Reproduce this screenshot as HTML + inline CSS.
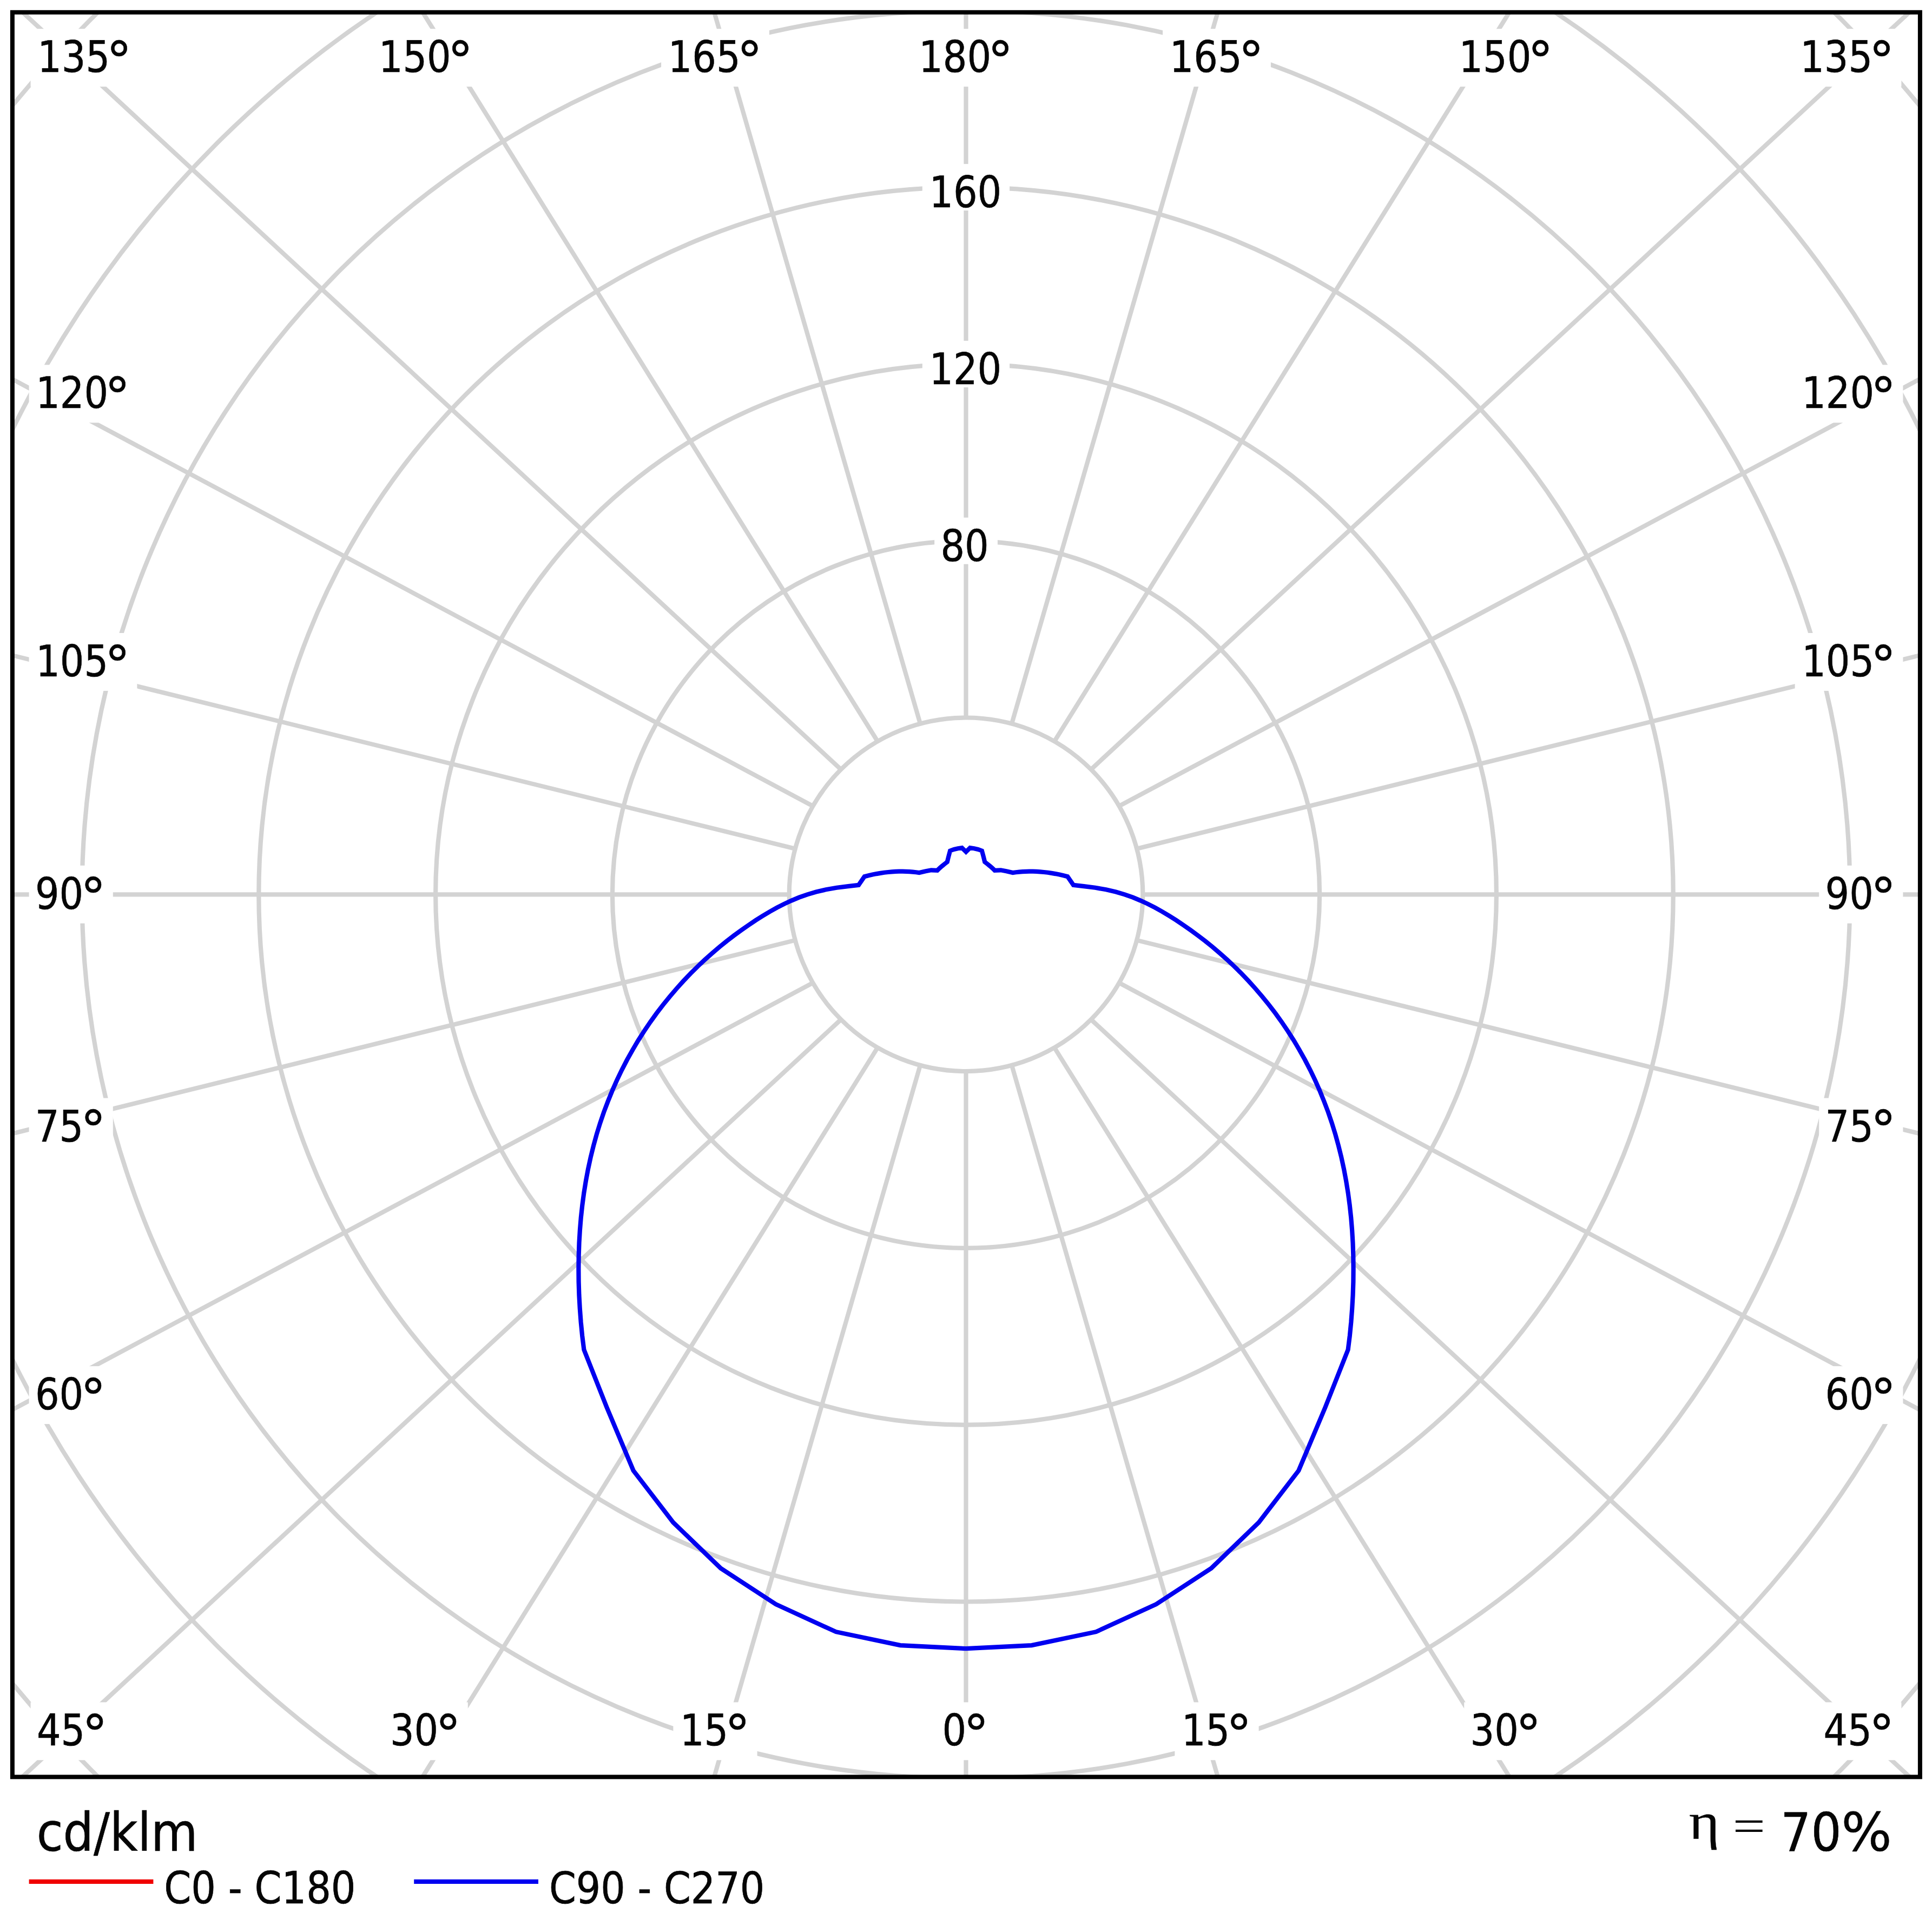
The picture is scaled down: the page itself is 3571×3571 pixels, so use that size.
<!DOCTYPE html>
<html lang="en"><head><meta charset="utf-8"><title>Polar diagram</title>
<style>html,body{margin:0;padding:0;background:#fff}body{width:3571px;height:3571px;overflow:hidden}svg{display:block}</style></head>
<body>
<svg width="3571" height="3571" viewBox="0 0 3571 3571">
<defs><clipPath id="fc"><rect x="22.9" y="22.75" width="3526.00" height="3261.65"/></clipPath></defs>
<rect x="0" y="0" width="3571" height="3571" fill="#ffffff"/>
<g clip-path="url(#fc)">
<g fill="none" stroke="#d3d3d3" stroke-width="8.2">
<circle cx="1785.5" cy="1653.3" r="326.80"/>
<circle cx="1785.5" cy="1653.3" r="653.60"/>
<circle cx="1785.5" cy="1653.3" r="980.40"/>
<circle cx="1785.5" cy="1653.3" r="1307.20"/>
<circle cx="1785.5" cy="1653.3" r="1634.00"/>
<circle cx="1785.5" cy="1653.3" r="1960.80"/>
<circle cx="1785.5" cy="1653.3" r="2287.60"/>
<line x1="1785.50" y1="1980.10" x2="1785.50" y2="3331.79"/>
<line x1="1870.08" y1="1968.96" x2="2264.77" y2="3332.23"/>
<line x1="1948.90" y1="1936.32" x2="2820.73" y2="3333.54"/>
<line x1="2016.58" y1="1884.38" x2="3585.13" y2="3335.62"/>
<line x1="2068.52" y1="1816.70" x2="3583.05" y2="2624.29"/>
<line x1="2101.16" y1="1737.88" x2="3581.75" y2="2103.59"/>
<line x1="2112.30" y1="1653.30" x2="3576.83" y2="1653.30"/>
<line x1="2101.16" y1="1568.72" x2="3581.75" y2="1203.01"/>
<line x1="2068.52" y1="1489.90" x2="3583.05" y2="682.31"/>
<line x1="2016.58" y1="1422.22" x2="3585.13" y2="-29.02"/>
<line x1="1948.90" y1="1370.28" x2="2820.73" y2="-26.94"/>
<line x1="1870.08" y1="1337.64" x2="2264.77" y2="-25.63"/>
<line x1="1785.50" y1="1326.50" x2="1785.50" y2="-25.19"/>
<line x1="1700.92" y1="1337.64" x2="1306.23" y2="-25.63"/>
<line x1="1622.10" y1="1370.28" x2="750.27" y2="-26.94"/>
<line x1="1554.42" y1="1422.22" x2="-14.13" y2="-29.02"/>
<line x1="1502.48" y1="1489.90" x2="-12.05" y2="682.31"/>
<line x1="1469.84" y1="1568.72" x2="-10.75" y2="1203.01"/>
<line x1="1458.70" y1="1653.30" x2="-5.83" y2="1653.30"/>
<line x1="1469.84" y1="1737.88" x2="-10.75" y2="2103.59"/>
<line x1="1502.48" y1="1816.70" x2="-12.05" y2="2624.29"/>
<line x1="1554.42" y1="1884.38" x2="-14.13" y2="3335.62"/>
<line x1="1622.10" y1="1936.32" x2="750.27" y2="3333.54"/>
<line x1="1700.92" y1="1968.96" x2="1306.23" y2="3332.23"/>
</g>
<rect x="56.6" y="53.3" width="199.8" height="106.9" fill="#ffffff"/>
<rect x="3314.6" y="53.3" width="199.8" height="106.9" fill="#ffffff"/>
<rect x="687.3" y="53.3" width="199.8" height="106.9" fill="#ffffff"/>
<rect x="2683.9" y="53.3" width="199.8" height="106.9" fill="#ffffff"/>
<rect x="1222.1" y="53.3" width="199.8" height="106.9" fill="#ffffff"/>
<rect x="2149.1" y="53.3" width="199.8" height="106.9" fill="#ffffff"/>
<rect x="1685.6" y="53.3" width="199.8" height="106.9" fill="#ffffff"/>
<rect x="56.6" y="3146.4" width="155.2" height="106.9" fill="#ffffff"/>
<rect x="3359.2" y="3146.4" width="155.2" height="106.9" fill="#ffffff"/>
<rect x="709.6" y="3146.4" width="155.2" height="106.9" fill="#ffffff"/>
<rect x="2706.2" y="3146.4" width="155.2" height="106.9" fill="#ffffff"/>
<rect x="1244.4" y="3146.4" width="155.2" height="106.9" fill="#ffffff"/>
<rect x="2171.4" y="3146.4" width="155.2" height="106.9" fill="#ffffff"/>
<rect x="1730.2" y="3146.4" width="110.6" height="106.9" fill="#ffffff"/>
<rect x="53.6" y="674.4" width="199.8" height="106.9" fill="#ffffff"/>
<rect x="3317.6" y="674.4" width="199.8" height="106.9" fill="#ffffff"/>
<rect x="53.6" y="1170.0" width="199.8" height="106.9" fill="#ffffff"/>
<rect x="3317.6" y="1170.0" width="199.8" height="106.9" fill="#ffffff"/>
<rect x="53.6" y="1599.8" width="155.2" height="106.9" fill="#ffffff"/>
<rect x="3362.2" y="1599.8" width="155.2" height="106.9" fill="#ffffff"/>
<rect x="53.6" y="2029.6" width="155.2" height="106.9" fill="#ffffff"/>
<rect x="3362.2" y="2029.6" width="155.2" height="106.9" fill="#ffffff"/>
<rect x="53.6" y="2525.2" width="155.2" height="106.9" fill="#ffffff"/>
<rect x="3362.2" y="2525.2" width="155.2" height="106.9" fill="#ffffff"/>
<rect x="1727.2" y="956.7" width="116.7" height="86.0" fill="#ffffff"/>
<rect x="1704.8" y="629.9" width="161.3" height="86.0" fill="#ffffff"/>
<rect x="1704.8" y="303.1" width="161.3" height="86.0" fill="#ffffff"/>
<path d="M1785.5,3047.2 L1906.9,3041.1 L2025.8,3016.2 L2137.0,2965.2 L2238.8,2898.8 L2326.7,2813.9 L2400.3,2718.2 L2449.4,2601.5 L2491.6,2494.8 L2494.8,2469.2 L2497.3,2443.8 L2499.2,2418.7 L2500.6,2393.8 L2501.4,2369.2 L2501.6,2344.9 L2501.3,2320.8 L2500.5,2297.1 L2499.1,2273.6 L2497.2,2250.5 L2494.7,2227.6 L2491.7,2205.0 L2488.1,2182.8 L2484.0,2160.8 L2479.3,2139.1 L2474.0,2117.7 L2468.2,2096.6 L2461.8,2075.9 L2454.8,2055.4 L2447.2,2035.4 L2439.2,2015.6 L2430.6,1996.3 L2421.5,1977.3 L2411.9,1958.8 L2401.8,1940.7 L2391.3,1923.0 L2380.3,1905.8 L2369.0,1889.0 L2357.3,1872.8 L2345.2,1857.0 L2332.9,1841.8 L2320.3,1827.1 L2307.5,1812.9 L2294.4,1799.2 L2281.2,1786.1 L2267.9,1773.6 L2254.4,1761.6 L2241.0,1750.1 L2227.5,1739.2 L2214.0,1728.9 L2200.6,1719.1 L2187.3,1709.8 L2174.2,1701.0 L2161.1,1692.8 L2148.1,1685.0 L2135.0,1677.7 L2121.7,1670.9 L2108.1,1664.6 L2093.9,1658.7 L2078.8,1653.3 L2062.5,1648.5 L2044.4,1644.3 L2024.4,1640.8 L2003.5,1638.1 L1984.0,1635.9 L1973.2,1620.2 L1965.7,1618.3 L1958.3,1616.6 L1950.9,1615.1 L1943.7,1613.9 L1936.6,1612.8 L1929.5,1612.0 L1922.6,1611.4 L1915.8,1610.9 L1909.2,1610.7 L1902.6,1610.7 L1896.2,1610.8 L1890.0,1611.1 L1883.8,1611.6 L1877.8,1612.2 L1872.0,1613.0 L1860.0,1610.3 L1849.8,1608.3 L1838.5,1608.8 L1834.2,1604.6 L1829.7,1600.7 L1825.0,1596.9 L1820.2,1593.1 L1817.9,1583.8 L1814.9,1572.5 L1807.8,1569.9 L1800.5,1568.2 L1793.0,1567.1 L1785.5,1574.5 L1778.0,1567.1 L1770.5,1568.2 L1763.2,1569.9 L1756.1,1572.5 L1753.1,1583.8 L1750.8,1593.1 L1746.0,1596.9 L1741.3,1600.7 L1736.8,1604.6 L1732.5,1608.8 L1721.2,1608.3 L1711.0,1610.3 L1699.0,1613.0 L1693.2,1612.2 L1687.2,1611.6 L1681.0,1611.1 L1674.8,1610.8 L1668.4,1610.7 L1661.8,1610.7 L1655.2,1610.9 L1648.4,1611.4 L1641.5,1612.0 L1634.4,1612.8 L1627.3,1613.9 L1620.1,1615.1 L1612.7,1616.6 L1605.3,1618.3 L1597.8,1620.2 L1587.0,1635.9 L1567.5,1638.1 L1546.6,1640.8 L1526.6,1644.3 L1508.5,1648.5 L1492.2,1653.3 L1477.1,1658.7 L1462.9,1664.6 L1449.3,1670.9 L1436.0,1677.7 L1422.9,1685.0 L1409.9,1692.8 L1396.8,1701.0 L1383.7,1709.8 L1370.4,1719.1 L1357.0,1728.9 L1343.5,1739.2 L1330.0,1750.1 L1316.6,1761.6 L1303.1,1773.6 L1289.8,1786.1 L1276.6,1799.2 L1263.5,1812.9 L1250.7,1827.1 L1238.1,1841.8 L1225.8,1857.0 L1213.7,1872.8 L1202.0,1889.0 L1190.7,1905.8 L1179.7,1923.0 L1169.2,1940.7 L1159.1,1958.8 L1149.5,1977.3 L1140.4,1996.3 L1131.8,2015.6 L1123.8,2035.4 L1116.2,2055.4 L1109.2,2075.9 L1102.8,2096.6 L1097.0,2117.7 L1091.7,2139.1 L1087.0,2160.8 L1082.9,2182.8 L1079.3,2205.0 L1076.3,2227.6 L1073.8,2250.5 L1071.9,2273.6 L1070.5,2297.1 L1069.7,2320.8 L1069.4,2344.9 L1069.6,2369.2 L1070.4,2393.8 L1071.8,2418.7 L1073.7,2443.8 L1076.2,2469.2 L1079.4,2494.8 L1121.6,2601.5 L1170.7,2718.2 L1244.3,2813.9 L1332.2,2898.8 L1434.0,2965.2 L1545.2,3016.2 L1664.1,3041.1 Z" fill="none" stroke="#f00000" stroke-width="5" stroke-linejoin="miter"/>
<path d="M1785.5,3047.2 L1906.9,3041.1 L2025.8,3016.2 L2137.0,2965.2 L2238.8,2898.8 L2326.7,2813.9 L2400.3,2718.2 L2449.4,2601.5 L2491.6,2494.8 L2494.8,2469.2 L2497.3,2443.8 L2499.2,2418.7 L2500.6,2393.8 L2501.4,2369.2 L2501.6,2344.9 L2501.3,2320.8 L2500.5,2297.1 L2499.1,2273.6 L2497.2,2250.5 L2494.7,2227.6 L2491.7,2205.0 L2488.1,2182.8 L2484.0,2160.8 L2479.3,2139.1 L2474.0,2117.7 L2468.2,2096.6 L2461.8,2075.9 L2454.8,2055.4 L2447.2,2035.4 L2439.2,2015.6 L2430.6,1996.3 L2421.5,1977.3 L2411.9,1958.8 L2401.8,1940.7 L2391.3,1923.0 L2380.3,1905.8 L2369.0,1889.0 L2357.3,1872.8 L2345.2,1857.0 L2332.9,1841.8 L2320.3,1827.1 L2307.5,1812.9 L2294.4,1799.2 L2281.2,1786.1 L2267.9,1773.6 L2254.4,1761.6 L2241.0,1750.1 L2227.5,1739.2 L2214.0,1728.9 L2200.6,1719.1 L2187.3,1709.8 L2174.2,1701.0 L2161.1,1692.8 L2148.1,1685.0 L2135.0,1677.7 L2121.7,1670.9 L2108.1,1664.6 L2093.9,1658.7 L2078.8,1653.3 L2062.5,1648.5 L2044.4,1644.3 L2024.4,1640.8 L2003.5,1638.1 L1984.0,1635.9 L1973.2,1620.2 L1965.7,1618.3 L1958.3,1616.6 L1950.9,1615.1 L1943.7,1613.9 L1936.6,1612.8 L1929.5,1612.0 L1922.6,1611.4 L1915.8,1610.9 L1909.2,1610.7 L1902.6,1610.7 L1896.2,1610.8 L1890.0,1611.1 L1883.8,1611.6 L1877.8,1612.2 L1872.0,1613.0 L1860.0,1610.3 L1849.8,1608.3 L1838.5,1608.8 L1834.2,1604.6 L1829.7,1600.7 L1825.0,1596.9 L1820.2,1593.1 L1817.9,1583.8 L1814.9,1572.5 L1807.8,1569.9 L1800.5,1568.2 L1793.0,1567.1 L1785.5,1574.5 L1778.0,1567.1 L1770.5,1568.2 L1763.2,1569.9 L1756.1,1572.5 L1753.1,1583.8 L1750.8,1593.1 L1746.0,1596.9 L1741.3,1600.7 L1736.8,1604.6 L1732.5,1608.8 L1721.2,1608.3 L1711.0,1610.3 L1699.0,1613.0 L1693.2,1612.2 L1687.2,1611.6 L1681.0,1611.1 L1674.8,1610.8 L1668.4,1610.7 L1661.8,1610.7 L1655.2,1610.9 L1648.4,1611.4 L1641.5,1612.0 L1634.4,1612.8 L1627.3,1613.9 L1620.1,1615.1 L1612.7,1616.6 L1605.3,1618.3 L1597.8,1620.2 L1587.0,1635.9 L1567.5,1638.1 L1546.6,1640.8 L1526.6,1644.3 L1508.5,1648.5 L1492.2,1653.3 L1477.1,1658.7 L1462.9,1664.6 L1449.3,1670.9 L1436.0,1677.7 L1422.9,1685.0 L1409.9,1692.8 L1396.8,1701.0 L1383.7,1709.8 L1370.4,1719.1 L1357.0,1728.9 L1343.5,1739.2 L1330.0,1750.1 L1316.6,1761.6 L1303.1,1773.6 L1289.8,1786.1 L1276.6,1799.2 L1263.5,1812.9 L1250.7,1827.1 L1238.1,1841.8 L1225.8,1857.0 L1213.7,1872.8 L1202.0,1889.0 L1190.7,1905.8 L1179.7,1923.0 L1169.2,1940.7 L1159.1,1958.8 L1149.5,1977.3 L1140.4,1996.3 L1131.8,2015.6 L1123.8,2035.4 L1116.2,2055.4 L1109.2,2075.9 L1102.8,2096.6 L1097.0,2117.7 L1091.7,2139.1 L1087.0,2160.8 L1082.9,2182.8 L1079.3,2205.0 L1076.3,2227.6 L1073.8,2250.5 L1071.9,2273.6 L1070.5,2297.1 L1069.7,2320.8 L1069.4,2344.9 L1069.6,2369.2 L1070.4,2393.8 L1071.8,2418.7 L1073.7,2443.8 L1076.2,2469.2 L1079.4,2494.8 L1121.6,2601.5 L1170.7,2718.2 L1244.3,2813.9 L1332.2,2898.8 L1434.0,2965.2 L1545.2,3016.2 L1664.1,3041.1 Z" fill="none" stroke="#0000f0" stroke-width="8.2" stroke-linejoin="miter"/>
</g>
<rect x="22.9" y="22.75" width="3526.00" height="3261.65" fill="none" stroke="#000000" stroke-width="8.0"/>
<g font-family="'DejaVu Sans Condensed','Liberation Sans',sans-serif" font-size="80" fill="#050505" stroke="#050505" stroke-width="0.6">
<text transform="translate(69.2,133.3) scale(0.9742,1)" x="0" y="0">135<tspan x="130.6" dy="12.6" font-family="'DejaVu Sans','Liberation Sans',sans-serif" font-size="97">°</tspan></text>
<text transform="translate(3327.2,133.3) scale(0.9742,1)" x="0" y="0">135<tspan x="130.6" dy="12.6" font-family="'DejaVu Sans','Liberation Sans',sans-serif" font-size="97">°</tspan></text>
<text transform="translate(699.9,133.3) scale(0.9742,1)" x="0" y="0">150<tspan x="130.6" dy="12.6" font-family="'DejaVu Sans','Liberation Sans',sans-serif" font-size="97">°</tspan></text>
<text transform="translate(2696.5,133.3) scale(0.9742,1)" x="0" y="0">150<tspan x="130.6" dy="12.6" font-family="'DejaVu Sans','Liberation Sans',sans-serif" font-size="97">°</tspan></text>
<text transform="translate(1234.7,133.3) scale(0.9742,1)" x="0" y="0">165<tspan x="130.6" dy="12.6" font-family="'DejaVu Sans','Liberation Sans',sans-serif" font-size="97">°</tspan></text>
<text transform="translate(2161.7,133.3) scale(0.9742,1)" x="0" y="0">165<tspan x="130.6" dy="12.6" font-family="'DejaVu Sans','Liberation Sans',sans-serif" font-size="97">°</tspan></text>
<text transform="translate(1698.2,133.3) scale(0.9742,1)" x="0" y="0">180<tspan x="130.6" dy="12.6" font-family="'DejaVu Sans','Liberation Sans',sans-serif" font-size="97">°</tspan></text>
<text transform="translate(68.0,3226.4) scale(0.9742,1)" x="0" y="0">45<tspan x="86.1" dy="12.6" font-family="'DejaVu Sans','Liberation Sans',sans-serif" font-size="97">°</tspan></text>
<text transform="translate(3370.6,3226.4) scale(0.9742,1)" x="0" y="0">45<tspan x="86.1" dy="12.6" font-family="'DejaVu Sans','Liberation Sans',sans-serif" font-size="97">°</tspan></text>
<text transform="translate(721.0,3226.4) scale(0.9742,1)" x="0" y="0">30<tspan x="86.1" dy="12.6" font-family="'DejaVu Sans','Liberation Sans',sans-serif" font-size="97">°</tspan></text>
<text transform="translate(2717.6,3226.4) scale(0.9742,1)" x="0" y="0">30<tspan x="86.1" dy="12.6" font-family="'DejaVu Sans','Liberation Sans',sans-serif" font-size="97">°</tspan></text>
<text transform="translate(1257.0,3226.4) scale(0.9742,1)" x="0" y="0">15<tspan x="84.8" dy="12.6" font-family="'DejaVu Sans','Liberation Sans',sans-serif" font-size="97">°</tspan></text>
<text transform="translate(2184.0,3226.4) scale(0.9742,1)" x="0" y="0">15<tspan x="84.8" dy="12.6" font-family="'DejaVu Sans','Liberation Sans',sans-serif" font-size="97">°</tspan></text>
<text transform="translate(1741.6,3226.4) scale(0.9742,1)" x="0" y="0">0<tspan x="40.3" dy="12.6" font-family="'DejaVu Sans','Liberation Sans',sans-serif" font-size="97">°</tspan></text>
<text transform="translate(66.2,754.4) scale(0.9742,1)" x="0" y="0">120<tspan x="130.6" dy="12.6" font-family="'DejaVu Sans','Liberation Sans',sans-serif" font-size="97">°</tspan></text>
<text transform="translate(3330.2,754.4) scale(0.9742,1)" x="0" y="0">120<tspan x="130.6" dy="12.6" font-family="'DejaVu Sans','Liberation Sans',sans-serif" font-size="97">°</tspan></text>
<text transform="translate(66.2,1250.0) scale(0.9742,1)" x="0" y="0">105<tspan x="130.6" dy="12.6" font-family="'DejaVu Sans','Liberation Sans',sans-serif" font-size="97">°</tspan></text>
<text transform="translate(3330.2,1250.0) scale(0.9742,1)" x="0" y="0">105<tspan x="130.6" dy="12.6" font-family="'DejaVu Sans','Liberation Sans',sans-serif" font-size="97">°</tspan></text>
<text transform="translate(65.0,1679.8) scale(0.9742,1)" x="0" y="0">90<tspan x="86.1" dy="12.6" font-family="'DejaVu Sans','Liberation Sans',sans-serif" font-size="97">°</tspan></text>
<text transform="translate(3373.6,1679.8) scale(0.9742,1)" x="0" y="0">90<tspan x="86.1" dy="12.6" font-family="'DejaVu Sans','Liberation Sans',sans-serif" font-size="97">°</tspan></text>
<text transform="translate(65.0,2109.6) scale(0.9742,1)" x="0" y="0">75<tspan x="86.1" dy="12.6" font-family="'DejaVu Sans','Liberation Sans',sans-serif" font-size="97">°</tspan></text>
<text transform="translate(3373.6,2109.6) scale(0.9742,1)" x="0" y="0">75<tspan x="86.1" dy="12.6" font-family="'DejaVu Sans','Liberation Sans',sans-serif" font-size="97">°</tspan></text>
<text transform="translate(65.0,2605.2) scale(0.9742,1)" x="0" y="0">60<tspan x="86.1" dy="12.6" font-family="'DejaVu Sans','Liberation Sans',sans-serif" font-size="97">°</tspan></text>
<text transform="translate(3373.6,2605.2) scale(0.9742,1)" x="0" y="0">60<tspan x="86.1" dy="12.6" font-family="'DejaVu Sans','Liberation Sans',sans-serif" font-size="97">°</tspan></text>
<text transform="translate(1738.5,1036.7) scale(0.9742,1)" x="0" y="0">80</text>
<text transform="translate(1717.4,709.9) scale(0.9742,1)" x="0" y="0">120</text>
<text transform="translate(1717.4,383.1) scale(0.9742,1)" x="0" y="0">160</text>
</g>
<text transform="translate(67.7,3420.5) scale(1.0080,1.0000)" font-family="'DejaVu Sans Condensed','Liberation Sans',sans-serif" font-size="98" fill="#050505" stroke="#050505" stroke-width="0.7">cd/klm</text>
<text transform="translate(303.2,3518.3) scale(0.9850,1.0000)" font-family="'DejaVu Sans Condensed','Liberation Sans',sans-serif" font-size="81" fill="#050505" stroke="#050505" stroke-width="0.7">C0 - C180</text>
<text transform="translate(1014.9,3518.3) scale(0.9810,1.0000)" font-family="'DejaVu Sans Condensed','Liberation Sans',sans-serif" font-size="81" fill="#050505" stroke="#050505" stroke-width="0.7">C90 - C270</text>
<text transform="translate(3291.3,3420.5) scale(1.0000,1.0000)" font-family="'DejaVu Sans Condensed','Liberation Sans',sans-serif" font-size="98" fill="#050505" stroke="#050505" stroke-width="0.7">70<tspan font-family="'DejaVu Sans','Liberation Sans',sans-serif">%</tspan></text>
<text transform="translate(3121.8,3399.3) scale(1.1300,1.0000)" font-family="'Liberation Serif','DejaVu Serif',serif" font-size="96" fill="#050505" stroke="#050505" stroke-width="0.3">η</text>
<text transform="translate(3202.7,3403.7) scale(1.0640,0.8530)" font-family="'Liberation Serif','DejaVu Serif',serif" font-size="100" fill="#050505" stroke="#050505" stroke-width="0.2">=</text>
<line x1="53.6" y1="3477.9" x2="283.4" y2="3477.9" stroke="#f00000" stroke-width="8.2"/>
<line x1="765.2" y1="3477.9" x2="995" y2="3477.9" stroke="#0000f0" stroke-width="8.2"/>
</svg>
</body></html>
